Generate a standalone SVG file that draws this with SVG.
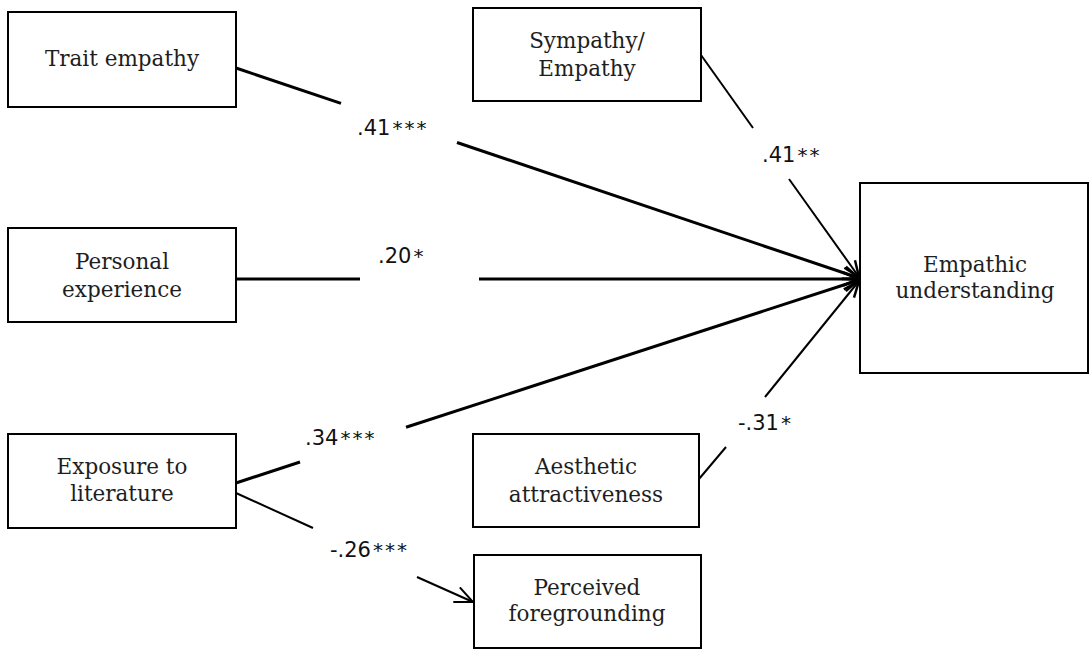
<svg xmlns="http://www.w3.org/2000/svg" width="1091" height="652" viewBox="0 0 1091 652">
  <style>
    .box { fill: #ffffff; stroke: #000000; stroke-width: 2; }
    .name { font-family: "DejaVu Serif", "Liberation Serif", serif; font-size: 21.5px; fill: #1e1e1e; text-anchor: middle; }
    .coef { font-family: "DejaVu Sans", "Liberation Sans", sans-serif; font-size: 21px; fill: #111111; }
    .stars { font-size: 20px; letter-spacing: 2px; }
    .thick { fill: none; stroke: #000000; stroke-width: 3; }
    .thin { fill: none; stroke: #000000; stroke-width: 2; }
  </style>
  <defs>
    <marker id="head" markerUnits="userSpaceOnUse" viewBox="0 0 18 16" refX="17" refY="8" markerWidth="18" markerHeight="16" orient="auto">
      <path d="M1,1.5 L17,8 L1,14.5" fill="none" stroke="#000000" stroke-width="2.5"/>
    </marker>
    <marker id="headOpen" markerUnits="userSpaceOnUse" viewBox="0 0 20 18" refX="19" refY="9" markerWidth="20" markerHeight="18" orient="auto">
      <path d="M1,1 L19,9 L1,17" fill="none" stroke="#000000" stroke-width="2"/>
    </marker>
  </defs>

  <rect width="1091" height="652" fill="#ffffff"/>

  <g id="connectors">
    <!-- Trait empathy -> Empathic understanding -->
    <path class="thick" d="M236,68 L341,103.4"/>
    <path class="thick" d="M457,142.5 L859,278" marker-end="url(#head)"/>
    <!-- Personal experience -> Empathic understanding -->
    <path class="thick" d="M236,279 L360,279"/>
    <path class="thick" d="M479,279 L859,279" marker-end="url(#head)"/>
    <!-- Exposure to literature -> Empathic understanding -->
    <path class="thick" d="M236,483 L300,462"/>
    <path class="thick" d="M406,427.3 L859,280" marker-end="url(#head)"/>
    <!-- Sympathy/Empathy -> Empathic understanding -->
    <path class="thin" d="M701,55 L753,128"/>
    <path class="thin" d="M789,179 L859,277" marker-end="url(#head)"/>
    <!-- Aesthetic attractiveness -> Empathic understanding -->
    <path class="thin" d="M699,479 L726,447"/>
    <path class="thin" d="M765,397 L859,281" marker-end="url(#head)"/>
    <!-- Exposure to literature -> Perceived foregrounding -->
    <path class="thin" d="M236,493 L313,528"/>
    <path class="thin" d="M417,577 L473,602" marker-end="url(#headOpen)"/>

    <text class="coef" x="357" y="135">.41<tspan class="stars" dx="2">***</tspan></text>
    <text class="coef" x="762" y="162">.41<tspan class="stars" dx="2">**</tspan></text>
    <text class="coef" x="378" y="263">.20<tspan class="stars" dx="2">*</tspan></text>
    <text class="coef" x="305" y="445">.34<tspan class="stars" dx="2">***</tspan></text>
    <text class="coef" x="330" y="557">-.26<tspan class="stars" dx="2">***</tspan></text>
    <text class="coef" x="738" y="430">-.31<tspan class="stars" dx="2">*</tspan></text>
  </g>

  <g id="trait-empathy">
    <rect class="box" x="8" y="12" width="228" height="95"/>
    <text class="name" x="122" y="66">Trait empathy</text>
  </g>

  <g id="personal-experience">
    <rect class="box" x="8" y="228" width="228" height="94"/>
    <text class="name" x="122" y="269">Personal</text>
    <text class="name" x="122" y="297">experience</text>
  </g>

  <g id="exposure-to-literature">
    <rect class="box" x="8" y="434" width="228" height="94"/>
    <text class="name" x="122" y="474">Exposure to</text>
    <text class="name" x="122" y="501">literature</text>
  </g>

  <g id="sympathy-empathy">
    <rect class="box" x="473" y="8" width="228" height="93"/>
    <text class="name" x="587" y="48">Sympathy/</text>
    <text class="name" x="587" y="76">Empathy</text>
  </g>

  <g id="aesthetic-attractiveness">
    <rect class="box" x="473" y="434" width="226" height="93"/>
    <text class="name" x="586" y="474">Aesthetic</text>
    <text class="name" x="586" y="502">attractiveness</text>
  </g>

  <g id="perceived-foregrounding">
    <rect class="box" x="474" y="555" width="227" height="93"/>
    <text class="name" x="587" y="595">Perceived</text>
    <text class="name" x="587" y="621">foregrounding</text>
  </g>

  <g id="empathic-understanding">
    <rect class="box" x="860" y="183" width="228" height="190"/>
    <text class="name" x="975" y="272">Empathic</text>
    <text class="name" x="975" y="298">understanding</text>
  </g>
</svg>
